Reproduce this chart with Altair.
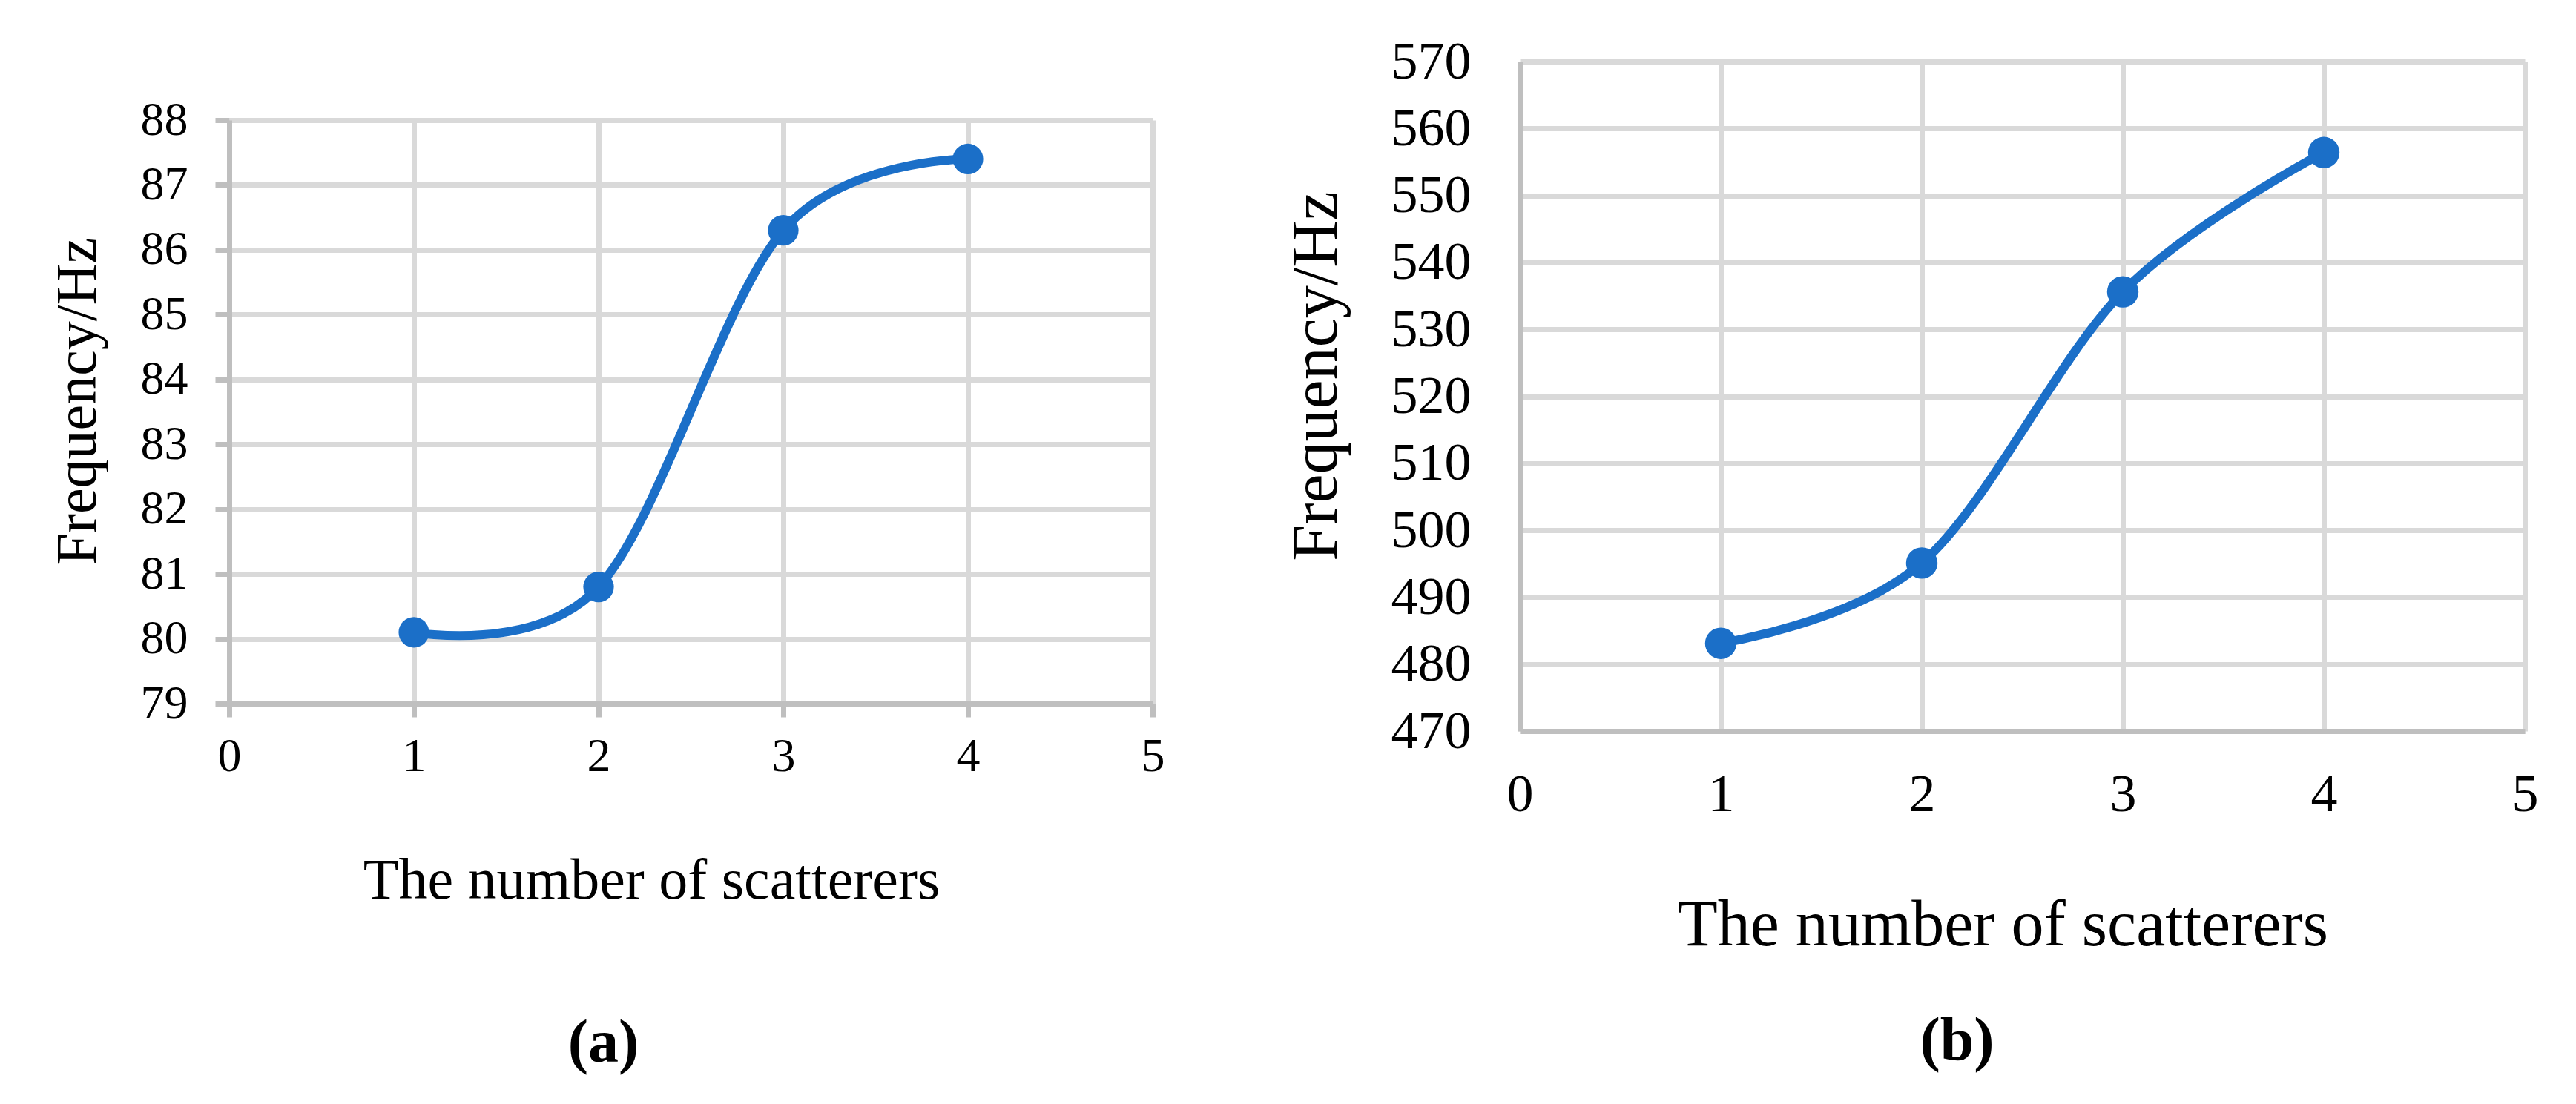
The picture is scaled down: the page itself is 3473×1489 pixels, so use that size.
import altair as alt
import pandas as pd

# ---- data ----
scatterers = [1, 2, 3, 4]
freq_a = [80.1, 80.8, 86.3, 87.4]
freq_b = [483.1, 495.1, 535.6, 556.4]
x_ticks = [0, 1, 2, 3, 4, 5]
y_ticks_a = [79, 80, 81, 82, 83, 84, 85, 86, 87, 88]
y_ticks_b = [470, 480, 490, 500, 510, 520, 530, 540, 550, 560, 570]
x_title = "The number of scatterers"
y_title = "Frequency/Hz"
caption_a = "(a)"
caption_b = "(b)"

BLUE = "#1b6fc8"
FONT = "Liberation Serif"
GRID = "#d9d9d9"
DOMAIN = "#bfbfbf"


def panel(values, ydomain, yticks, w, h, caption, sty):
    df = pd.DataFrame({"n": scatterers, "f": values})
    xaxis = alt.Axis(
        values=x_ticks, title=x_title, grid=True, gridColor=GRID, gridWidth=7,
        domainColor=DOMAIN, domainWidth=7,
        ticks=sty["ticks"], tickColor=DOMAIN, tickWidth=7, tickSize=sty["xtick"],
        labelPadding=sty["xlp"], labelFont=FONT, labelFontSize=sty["lfs"],
        labelColor="black", labelFlush=False, labelOverlap=False,
        titleFont=FONT, titleFontSize=sty["tfs"], titleFontWeight="normal",
        titleColor="black", titleX=sty["xtx"], titleY=sty["xty"],
        titleAlign="center", titleBaseline="middle", titleAngle=0,
    )
    yaxis = alt.Axis(
        values=yticks, title=y_title, grid=True, gridColor=GRID, gridWidth=7,
        domainColor=DOMAIN, domainWidth=7,
        ticks=sty["ticks"], tickColor=DOMAIN, tickWidth=7, tickSize=sty["ytick"],
        labelPadding=sty["ylp"], labelFont=FONT, labelFontSize=sty["lfs"],
        labelColor="black", labelFlush=False, labelOverlap=False,
        titleFont=FONT, titleFontSize=sty["tfs"], titleFontWeight="normal",
        titleColor="black", titleX=sty["ytx"], titleY=sty["yty"],
        titleAlign="center", titleBaseline="middle", titleAngle=270,
    )
    base = alt.Chart(df).encode(
        x=alt.X("n:Q", scale=alt.Scale(domain=[0, 5], nice=False, zero=False), axis=xaxis),
        y=alt.Y("f:Q", scale=alt.Scale(domain=ydomain, nice=False, zero=False), axis=yaxis),
    )
    line = base.mark_line(interpolate="cardinal", color=BLUE, strokeWidth=12)
    pts = base.mark_point(filled=True, shape="circle", size=sty["msize"], color=BLUE, opacity=1)
    return alt.layer(line, pts).properties(
        width=w, height=h,
        title=alt.TitleParams(
            text=caption, orient="bottom", anchor="middle", frame="group",
            font=FONT, fontSize=82, fontWeight="bold", color="black",
            baseline="top", dx=sty["cdx"], offset=sty["coff"],
        ),
    )


left = panel(freq_a, [79, 88], y_ticks_a, 1245, 787, caption_a, dict(
    ticks=True, xtick=18, ytick=19, xlp=21, ylp=37, lfs=64, tfs=78,
    xtx=569, xty=239, ytx=-204, yty=379, msize=1700, cdx=-118, coff=140,
))
right = panel(freq_b, [470, 570], y_ticks_b, 1355, 903, caption_b, dict(
    ticks=False, xtick=0, ytick=0, xlp=50, ylp=66, lfs=72, tfs=88,
    xtx=651, xty=262, ytx=-274, yty=424, msize=1800, cdx=-88, coff=72,
))

spacer = alt.Chart(pd.DataFrame({"v": [0]})).mark_point(opacity=0).encode(
    x=alt.X("v:Q", axis=None), y=alt.Y("v:Q", axis=None)
).properties(width=1245, height=1)

left_col = alt.vconcat(spacer, left, spacing=78, bounds="flush")

# nested flush column counts as zero width, so the gap includes the left panel width
chart = alt.hconcat(left_col, right, spacing=1740, bounds="flush").properties(
    padding={"left": 58, "top": 39, "right": 5, "bottom": 5},
    background="white",
).configure_view(strokeWidth=0)

chart.save("out.html", embed_options={"renderer": "svg", "actions": False})
